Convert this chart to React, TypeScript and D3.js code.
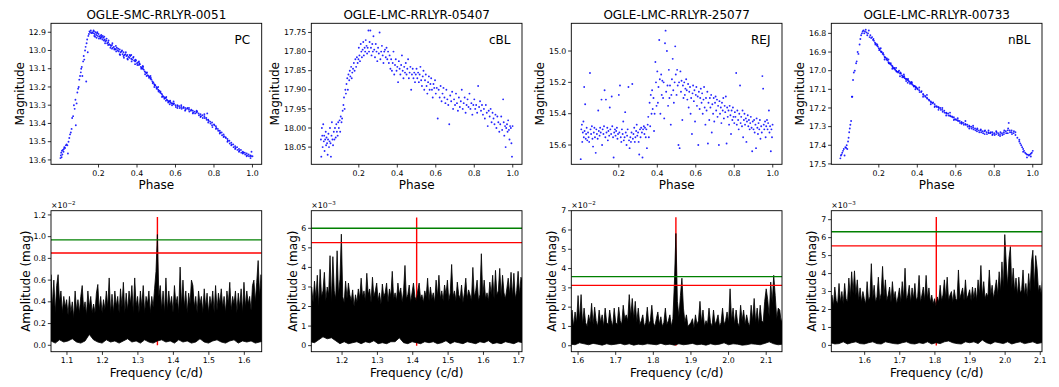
import React from 'react';
import * as d3 from 'd3';

// ---------------- Light-curve data: [phase, magnitude] ----------------
const lcSMC0051: [number, number][] = [
  [0.002,13.59],[0.004,13.575],[0.006,13.56],[0.008,13.585],[0.01,13.55],[0.012,13.57],[0.015,13.545],[0.018,13.555],[0.02,13.54],[0.022,13.53],
  [0.026,13.535],[0.03,13.52],[0.034,13.515],[0.038,13.52],[0.041,13.565],[0.044,13.5],[0.048,13.48],[0.052,13.46],[0.056,13.45],[0.06,13.43],
  [0.063,13.37],[0.068,13.36],[0.072,13.3],[0.076,13.32],[0.08,13.27],[0.082,13.41],[0.086,13.29],[0.09,13.23],[0.094,13.21],[0.097,13.2],
  [0.1,13.16],[0.104,13.14],[0.108,13.12],[0.11,13.1],[0.113,13.09],[0.116,13.14],[0.12,13.06],[0.123,13.03],[0.126,13.05],[0.13,13.0],
  [0.133,12.98],[0.136,13.17],[0.138,12.96],[0.141,12.94],[0.144,13.01],[0.147,12.92],[0.15,12.91],[0.153,12.895],[0.156,12.9],[0.16,12.89],
  [0.163,12.905],[0.167,12.9],
  [0.172,12.905],[0.176,12.895],[0.18,12.91],[0.184,12.9],[0.188,12.915],[0.192,12.905],[0.196,12.92],[0.2,12.91],[0.204,12.925],[0.208,12.92],
  [0.212,12.93],[0.216,12.925],[0.22,12.94],[0.224,12.93],[0.228,12.945],[0.232,12.94],[0.236,12.95],[0.24,12.945],[0.245,12.96],[0.25,12.955],
  [0.255,12.965],[0.26,12.97],[0.265,12.975],[0.27,12.97],[0.275,12.985],[0.28,12.98],[0.285,12.99],[0.29,12.995],[0.295,12.985],[0.3,13.0],
  [0.305,13.005],[0.31,12.995],[0.315,13.01],[0.32,13.005],[0.325,13.02],[0.33,13.01],[0.335,13.025],[0.34,13.02],[0.345,13.03],[0.35,13.025],
  [0.355,13.035],[0.36,13.04],[0.365,13.03],[0.37,13.045],[0.375,13.05],[0.38,13.04],[0.385,13.055],[0.39,13.06],[0.395,13.055],[0.4,13.07],
  [0.405,13.065],[0.41,13.08],[0.415,13.075],[0.42,13.09],[0.425,13.095],[0.43,13.1],[0.435,13.105],[0.44,13.115],[0.445,13.12],[0.45,13.125],
  [0.455,13.135],[0.46,13.14],[0.465,13.145],[0.47,13.155],[0.475,13.16],[0.48,13.17],[0.485,13.175],[0.49,13.185],[0.495,13.19],[0.5,13.2],
  [0.505,13.205],[0.51,13.215],[0.515,13.22],[0.52,13.23],[0.525,13.235],[0.53,13.24],[0.535,13.25],[0.54,13.255],[0.545,13.26],[0.55,13.26],
  [0.555,13.27],[0.56,13.275],[0.565,13.28],[0.57,13.28],[0.575,13.285],[0.58,13.29],[0.585,13.29],[0.59,13.295],[0.6,13.3],[0.61,13.3],
  [0.62,13.305],[0.63,13.31],[0.64,13.315],[0.65,13.315],[0.66,13.32],[0.67,13.325],[0.68,13.33],[0.69,13.33],[0.7,13.335],[0.71,13.34],
  [0.72,13.345],[0.73,13.35],[0.74,13.355],[0.75,13.36],[0.76,13.37],[0.765,13.345],[0.77,13.38],[0.78,13.39],[0.79,13.395],[0.8,13.405],
  [0.81,13.415],[0.82,13.43],[0.83,13.44],[0.84,13.45],[0.85,13.46],[0.86,13.475],[0.87,13.485],[0.88,13.495],[0.89,13.505],[0.9,13.515],
  [0.91,13.525],[0.92,13.53],[0.93,13.54],[0.94,13.545],[0.95,13.555],[0.96,13.56],[0.97,13.565],[0.98,13.57],[0.99,13.575],[1.0,13.58],
  [0.178,12.92],[0.19,12.93],[0.21,12.935],[0.23,12.925],[0.25,12.97],[0.27,12.99],[0.29,12.975],[0.31,13.02],[0.33,13.03],[0.35,13.045],
  [0.37,13.025],[0.39,13.075],[0.41,13.06],[0.43,13.085],[0.45,13.14],[0.47,13.14],[0.49,13.2],[0.51,13.2],[0.53,13.255],[0.55,13.275],
  [0.57,13.295],[0.59,13.28],[0.61,13.315],[0.63,13.3],[0.65,13.33],[0.67,13.315],[0.69,13.345],[0.71,13.33],[0.73,13.365],[0.75,13.35],
  [0.77,13.395],[0.79,13.41],[0.81,13.43],[0.83,13.455],[0.85,13.475],[0.87,13.5],[0.89,13.52],[0.91,13.54],[0.93,13.555],[0.95,13.565],
  [0.97,13.58],[0.99,13.59],[0.995,13.555],
  [0.174,12.89],[0.182,12.925],[0.194,12.9],[0.202,12.935],[0.214,12.915],[0.222,12.92],[0.234,12.96],[0.242,12.935],[0.252,12.945],[0.262,12.985],
  [0.272,12.96],[0.282,12.995],[0.292,13.005],[0.302,12.99],[0.312,13.025],[0.322,13.0],[0.332,13.04],[0.342,13.01],[0.352,13.05],[0.362,13.025],
  [0.372,13.06],[0.382,13.035],[0.392,13.05],[0.402,13.08],[0.412,13.07],[0.422,13.1],[0.432,13.09],[0.442,13.13],[0.452,13.12],[0.462,13.15],
  [0.472,13.15],[0.482,13.18],[0.492,13.19],[0.502,13.21],[0.512,13.225],[0.522,13.225],[0.532,13.25],[0.542,13.265],[0.552,13.255],[0.562,13.285],
  [0.572,13.275],[0.582,13.3],[0.592,13.29],[0.602,13.31],[0.612,13.305],[0.622,13.315],[0.632,13.32],[0.642,13.31],[0.652,13.325],[0.662,13.315],
  [0.672,13.335],[0.682,13.325],[0.692,13.34],[0.702,13.345],[0.712,13.335],[0.722,13.355],[0.732,13.36],[0.742,13.37],[0.752,13.37],[0.762,13.38],
  [0.772,13.385],[0.782,13.4],[0.792,13.42],[0.802,13.41],[0.812,13.425],[0.822,13.44],[0.832,13.45],[0.842,13.465],[0.852,13.47],[0.862,13.48],
  [0.872,13.495],[0.882,13.51],[0.892,13.515],[0.902,13.53],[0.912,13.535],[0.922,13.545],[0.932,13.55],[0.942,13.56],[0.952,13.56],[0.962,13.57],
  [0.972,13.575],[0.982,13.58],[0.992,13.58],
];

const lcLMC05407: [number, number][] = [
  [0.003,18.03],[0.005,18.075],[0.008,18.0],[0.01,18.02],[0.012,18.05],[0.015,17.99],[0.018,18.035],[0.02,18.02],[0.022,18.06],[0.025,18.03],
  [0.028,18.01],[0.03,18.045],[0.032,18.025],[0.035,18.04],[0.038,18.07],[0.04,18.03],[0.042,18.015],[0.045,18.05],[0.048,18.035],[0.05,18.0],
  [0.053,18.04],[0.055,18.075],[0.058,18.02],[0.06,17.985],[0.063,18.03],[0.066,18.045],[0.07,18.01],[0.073,18.03],[0.076,18.0],[0.08,18.025],
  [0.083,17.99],[0.086,18.01],[0.09,18.02],[0.093,17.985],[0.096,18.0],[0.1,17.98],
  [0.103,18.01],[0.106,17.97],[0.11,17.985],[0.113,17.975],[0.116,17.955],[0.12,17.94],[0.123,17.92],[0.126,17.95],[0.13,17.9],[0.133,17.91],
  [0.136,17.885],[0.14,17.87],[0.143,17.9],[0.146,17.86],[0.15,17.875],[0.153,17.85],[0.156,17.865],[0.16,17.84],[0.163,17.87],[0.166,17.855],
  [0.17,17.845],[0.174,17.83],[0.178,17.85],[0.182,17.82],[0.186,17.84],[0.19,17.815],[0.194,17.83],[0.198,17.82],
  [0.2,17.79],[0.203,17.81],[0.206,17.825],[0.21,17.78],[0.213,17.8],[0.216,17.815],[0.22,17.795],[0.223,17.775],[0.226,17.81],[0.23,17.79],
  [0.233,17.8],[0.236,17.77],[0.24,17.785],[0.243,17.805],[0.246,17.79],[0.25,17.745],[0.253,17.8],[0.256,17.775],[0.26,17.745],[0.263,17.79],
  [0.266,17.81],[0.27,17.78],[0.273,17.8],[0.276,17.76],[0.28,17.795],[0.284,17.815],[0.288,17.78],[0.292,17.8],[0.296,17.825],[0.3,17.79],
  [0.304,17.805],[0.308,17.75],[0.312,17.82],[0.316,17.8],[0.32,17.785],[0.324,17.81],[0.328,17.83],[0.332,17.8],[0.336,17.795],[0.34,17.815],
  [0.344,17.79],[0.348,17.82],[0.352,17.8],
  [0.356,17.83],[0.36,17.81],[0.364,17.845],[0.368,17.82],[0.372,17.85],[0.376,17.83],[0.38,17.8],[0.384,17.86],[0.388,17.835],[0.392,17.82],
  [0.396,17.85],[0.4,17.84],[0.404,17.88],[0.408,17.825],[0.412,17.845],[0.416,17.86],[0.42,17.835],[0.424,17.81],[0.428,17.85],[0.432,17.87],
  [0.436,17.84],[0.44,17.855],[0.444,17.83],[0.448,17.86],[0.452,17.845],[0.456,17.82],[0.46,17.87],[0.464,17.855],[0.468,17.84],[0.472,17.9],
  [0.476,17.86],[0.48,17.845],[0.484,17.87],[0.488,17.855],[0.492,17.88],[0.496,17.86],[0.5,17.845],
  [0.504,17.87],[0.508,17.855],[0.512,17.88],[0.516,17.86],[0.52,17.84],[0.524,17.875],[0.528,17.89],[0.532,17.865],[0.536,17.85],[0.54,17.9],
  [0.544,17.875],[0.548,17.86],[0.552,17.89],[0.556,17.91],[0.56,17.88],[0.564,17.865],[0.568,17.9],[0.572,17.885],[0.576,17.87],[0.58,17.9],
  [0.584,17.92],[0.588,17.885],[0.592,17.895],[0.596,17.875],[0.6,17.91],[0.605,17.895],[0.61,17.975],[0.615,17.9],[0.62,17.92],[0.625,17.89],
  [0.63,17.93],[0.635,17.91],[0.64,17.895],[0.645,17.92],[0.65,17.935],
  [0.655,17.9],[0.66,17.925],[0.665,17.94],[0.67,17.99],[0.675,17.915],[0.68,17.93],[0.685,17.905],[0.69,17.95],[0.695,17.925],[0.7,17.94],
  [0.705,17.91],[0.71,17.935],[0.715,17.955],[0.72,17.92],[0.725,17.945],[0.73,17.93],[0.735,17.9],[0.74,17.95],[0.745,17.935],[0.75,17.92],
  [0.755,17.96],[0.76,17.94],[0.765,17.925],[0.77,17.945],[0.775,17.91],[0.78,17.95],[0.785,17.935],[0.79,17.965],[0.795,17.94],
  [0.8,17.925],[0.805,17.95],[0.81,17.94],[0.815,17.96],[0.82,17.89],[0.825,17.945],[0.83,17.93],[0.835,17.955],[0.84,17.94],[0.845,17.965],
  [0.85,17.95],[0.855,17.975],[0.86,17.94],[0.865,17.96],[0.87,17.995],[0.875,17.955],[0.88,17.97],[0.885,17.95],[0.89,17.985],[0.895,17.96],
  [0.9,17.975],[0.905,17.99],[0.91,17.965],[0.915,18.0],[0.92,17.97],[0.925,17.985],[0.93,18.01],[0.935,17.99],[0.94,17.97],[0.945,18.005],
  [0.95,17.925],[0.953,17.985],[0.956,18.02],[0.96,17.995],[0.963,18.05],[0.966,18.0],[0.97,17.99],[0.973,18.01],[0.976,17.98],[0.98,18.005],
  [0.983,18.03],[0.986,17.995],[0.99,18.0],[0.993,18.04],[0.996,18.075],[0.999,17.995],
];

const lcLMC25077: [number, number][] = [
  [0.002,15.69],[0.005,15.5],[0.008,15.47],[0.01,15.58],[0.013,15.52],[0.016,15.45],[0.018,15.55],[0.02,15.23],[0.022,15.51],[0.025,15.34],
  [0.028,15.56],[0.03,15.53],[0.033,15.49],[0.036,15.57],[0.04,15.52],[0.043,15.55],[0.046,15.58],[0.05,15.14],[0.053,15.5],[0.056,15.53],
  [0.06,15.48],[0.063,15.56],[0.066,15.61],[0.07,15.52],[0.073,15.49],[0.076,15.55],[0.08,15.65],[0.083,15.5],[0.086,15.53],[0.09,15.56],
  [0.093,15.38],[0.096,15.51],[0.1,15.54],[0.103,15.49],[0.106,15.52],[0.11,15.31],[0.113,15.6],[0.116,15.5],[0.12,15.53],[0.123,15.48],
  [0.126,15.25],[0.13,15.55],[0.133,15.31],[0.136,15.52],[0.14,15.49],[0.143,15.57],[0.146,15.51],[0.15,15.54],[0.153,15.36],[0.156,15.5],
  [0.16,15.53],[0.163,15.29],[0.166,15.48],[0.17,15.55],[0.173,15.68],[0.176,15.52],[0.18,15.5],[0.183,15.54],[0.186,15.51],[0.19,15.49],
  [0.193,15.56],[0.196,15.53],[0.2,15.28],[0.203,15.52],[0.206,15.22],[0.21,15.55],[0.213,15.58],[0.216,15.5],[0.22,15.53],[0.223,15.45],
  [0.226,15.57],[0.23,15.55],[0.233,15.39],[0.236,15.52],[0.24,15.6],[0.243,15.54],[0.246,15.5],[0.25,15.23],[0.253,15.57],[0.256,15.62],
  [0.26,15.55],[0.263,15.58],[0.266,15.52],[0.27,15.21],[0.273,15.56],[0.276,15.53],[0.28,15.49],[0.283,15.58],[0.286,15.55],[0.29,15.51],
  [0.293,15.47],[0.296,15.54],[0.3,15.52],[0.303,15.58],[0.306,15.66],[0.31,15.5],[0.313,15.55],[0.316,15.49],[0.32,15.52],[0.323,15.68],
  [0.326,15.5],[0.33,15.48],[0.333,15.53],[0.336,15.49],[0.34,15.55],[0.343,15.5],[0.346,15.62],[0.35,15.47],
  [0.353,15.42],[0.356,15.55],[0.36,15.33],[0.363,15.48],[0.366,15.28],[0.37,15.4],[0.373,15.25],[0.376,15.37],[0.38,15.3],[0.383,15.51],
  [0.386,15.4],[0.39,15.07],[0.393,15.2],[0.396,15.35],[0.4,15.13],[0.403,15.33],[0.406,15.23],[0.41,14.93],[0.413,15.18],[0.416,15.4],
  [0.42,15.15],[0.423,15.28],[0.426,15.19],[0.43,15.3],[0.433,15.2],[0.436,15.43],[0.44,14.95],[0.443,14.87],[0.446,15.26],[0.45,15.0],
  [0.453,15.22],[0.456,15.35],[0.46,15.12],[0.463,15.3],[0.466,15.22],[0.47,15.47],[0.473,15.28],[0.476,15.18],[0.48,15.05],[0.483,15.25],
  [0.486,15.33],[0.49,15.2],[0.493,14.97],[0.496,15.15],[0.5,15.28],
  [0.503,15.12],[0.506,15.22],[0.51,15.6],[0.513,15.2],[0.516,15.62],[0.52,15.13],[0.523,15.26],[0.526,15.19],[0.53,15.44],[0.533,15.22],
  [0.536,15.3],[0.54,15.2],[0.543,15.28],[0.546,15.24],[0.55,15.18],[0.553,15.25],[0.556,15.31],[0.56,15.21],[0.563,15.36],[0.566,15.26],
  [0.57,15.23],[0.573,15.4],[0.576,15.3],[0.58,15.53],[0.583,15.27],[0.586,15.22],[0.59,15.32],[0.593,15.25],[0.596,15.45],[0.6,15.28],
  [0.603,15.23],[0.606,15.35],[0.61,15.29],[0.613,15.6],[0.616,15.26],[0.62,15.37],[0.623,15.3],[0.626,15.24],[0.63,15.33],[0.633,15.27],
  [0.636,15.4],[0.64,15.31],[0.643,15.23],[0.646,15.36],[0.65,15.47],
  [0.653,15.3],[0.656,15.38],[0.66,15.26],[0.663,15.59],[0.666,15.33],[0.67,15.44],[0.673,15.3],[0.676,15.36],[0.68,15.28],[0.683,15.52],
  [0.686,15.34],[0.69,15.4],[0.693,15.3],[0.696,15.45],[0.7,15.33],[0.703,15.29],[0.706,15.38],[0.71,15.31],[0.713,15.42],[0.716,15.35],
  [0.72,15.6],[0.723,15.32],[0.726,15.4],[0.73,15.36],[0.733,15.46],[0.736,15.33],[0.74,15.38],[0.743,15.3],[0.746,15.43],[0.75,15.35],
  [0.753,15.39],[0.756,15.29],[0.76,15.59],[0.763,15.36],[0.766,15.42],[0.77,15.38],[0.773,15.47],[0.776,15.35],[0.78,15.41],[0.783,15.53],
  [0.786,15.38],[0.79,15.44],[0.793,15.36],[0.796,15.42],
  [0.8,15.46],[0.803,15.39],[0.806,15.42],[0.81,15.14],[0.813,15.47],[0.816,15.38],[0.82,15.44],[0.823,15.5],[0.826,15.4],[0.83,15.22],
  [0.833,15.46],[0.836,15.42],[0.84,15.48],[0.843,15.38],[0.846,15.55],[0.85,15.44],[0.853,15.4],[0.856,15.47],[0.86,15.43],[0.863,15.58],
  [0.866,15.45],[0.87,15.41],[0.873,15.48],[0.876,15.44],[0.88,15.5],[0.883,15.46],[0.886,15.42],[0.89,15.49],[0.893,15.64],[0.896,15.45],
  [0.9,15.5],[0.903,15.44],[0.906,15.52],[0.91,15.47],[0.913,15.62],[0.916,15.43],[0.92,15.49],[0.923,15.53],[0.926,15.46],[0.93,15.5],
  [0.933,15.44],[0.936,15.56],[0.94,15.48],[0.943,15.52],[0.946,15.16],[0.95,15.24],[0.953,15.47],[0.956,15.5],[0.96,15.45],[0.963,15.55],
  [0.966,15.48],[0.97,15.44],[0.973,15.5],[0.976,15.46],[0.98,15.38],[0.983,15.52],[0.986,15.48],[0.99,15.64],[0.993,15.5],[0.996,15.55],
  [0.999,15.47],
];

const lcLMC00733: [number, number][] = [
  [0.0,17.47],[0.003,17.455],[0.006,17.45],[0.01,17.44],[0.014,17.43],[0.018,17.42],[0.022,17.455],[0.026,17.41],[0.03,17.415],[0.033,17.4],
  [0.036,17.42],[0.04,17.38],[0.043,17.36],[0.046,17.33],[0.049,17.31],[0.052,17.29],[0.056,17.27],[0.06,17.14],[0.062,17.14],[0.066,17.05],
  [0.07,17.01],[0.075,17.0],[0.082,16.96],[0.085,16.95],[0.09,16.9],[0.094,16.91],[0.1,16.86],[0.104,16.83],[0.108,16.81],[0.112,16.8],
  [0.116,16.79],[0.12,16.785],[0.124,16.8],[0.128,16.79],[0.132,16.78],[0.136,16.795],[0.14,16.81],[0.144,16.8],[0.148,16.785],[0.152,16.82],
  [0.156,16.81],[0.16,16.825],[0.165,16.82],[0.17,16.835],[0.175,16.84],[0.18,16.85],[0.185,16.855],[0.19,16.865],[0.195,16.87],[0.2,16.88],
  [0.205,16.885],[0.21,16.895],[0.215,16.9],[0.22,16.91],[0.225,16.915],[0.23,16.925],[0.235,16.93],[0.24,16.94],[0.245,16.945],[0.25,16.955],
  [0.255,16.96],[0.26,16.965],[0.265,16.97],[0.27,16.975],[0.275,16.985],[0.28,16.99],[0.285,16.995],[0.29,17.0],[0.295,17.005],[0.3,17.01],
  [0.305,17.0],[0.31,17.015],[0.315,17.015],[0.32,17.025],[0.325,17.03],[0.33,17.035],[0.335,17.04],[0.34,17.045],[0.345,17.045],[0.35,17.05],
  [0.355,17.055],[0.36,17.06],[0.365,17.065],[0.37,17.07],[0.375,17.075],[0.38,17.08],[0.385,17.082],[0.39,17.085],[0.395,17.09],[0.4,17.095],
  [0.41,17.105],[0.42,17.115],[0.43,17.125],[0.44,17.135],[0.45,17.145],[0.46,17.155],[0.47,17.165],[0.48,17.175],[0.49,17.18],[0.5,17.19],
  [0.51,17.195],[0.52,17.2],[0.53,17.21],[0.54,17.215],[0.55,17.225],[0.56,17.23],[0.57,17.24],[0.58,17.245],[0.59,17.25],[0.6,17.26],
  [0.61,17.265],[0.62,17.27],[0.63,17.275],[0.64,17.28],[0.65,17.285],[0.66,17.29],[0.67,17.295],[0.68,17.3],[0.69,17.305],[0.7,17.31],
  [0.71,17.315],[0.72,17.32],[0.73,17.32],[0.74,17.325],[0.75,17.325],[0.76,17.33],[0.77,17.33],[0.78,17.335],[0.79,17.33],[0.8,17.335],
  [0.81,17.34],[0.82,17.335],[0.83,17.34],[0.84,17.335],[0.85,17.33],[0.86,17.325],[0.87,17.32],[0.875,17.28],[0.88,17.32],[0.89,17.33],
  [0.9,17.335],[0.91,17.345],[0.92,17.36],[0.93,17.38],[0.935,17.39],[0.94,17.4],[0.945,17.41],[0.95,17.42],[0.955,17.43],[0.96,17.44],
  [0.965,17.445],[0.97,17.45],[0.975,17.45],[0.98,17.455],[0.985,17.45],[0.99,17.445],[0.995,17.44],[1.0,17.43],
  [0.21,16.88],[0.23,16.94],[0.25,16.94],[0.27,16.99],[0.29,16.985],[0.31,17.03],[0.33,17.02],[0.35,17.065],[0.37,17.06],[0.39,17.1],
  [0.41,17.09],[0.43,17.14],[0.45,17.13],[0.47,17.18],[0.49,17.195],[0.51,17.21],[0.53,17.2],[0.55,17.24],[0.57,17.225],[0.59,17.265],
  [0.61,17.255],[0.63,17.285],[0.65,17.27],[0.67,17.31],[0.69,17.295],[0.71,17.325],[0.73,17.315],[0.75,17.34],[0.77,17.32],[0.79,17.345],
  [0.81,17.325],[0.83,17.35],[0.85,17.34],[0.87,17.335],[0.89,17.32],[0.91,17.33],[0.93,17.37],[0.95,17.435],[0.97,17.465],[0.99,17.46],
  [0.172,16.83],[0.182,16.86],[0.192,16.86],[0.202,16.89],[0.212,16.9],[0.222,16.905],[0.232,16.93],[0.242,16.935],[0.252,16.96],[0.262,16.96],
  [0.272,16.98],[0.282,16.985],[0.292,17.005],[0.302,17.005],[0.312,17.01],[0.322,17.035],[0.332,17.03],[0.342,17.055],[0.352,17.045],[0.362,17.07],
  [0.372,17.065],[0.382,17.085],[0.392,17.09],[0.402,17.1],[0.412,17.115],[0.422,17.11],[0.432,17.13],[0.442,17.14],[0.452,17.15],[0.462,17.16],
  [0.472,17.17],[0.482,17.17],[0.492,17.19],[0.502,17.195],[0.512,17.2],[0.522,17.21],[0.532,17.22],[0.542,17.225],[0.552,17.23],[0.562,17.24],
  [0.572,17.245],[0.582,17.25],[0.592,17.26],[0.602,17.265],[0.612,17.27],[0.622,17.28],[0.632,17.28],[0.642,17.29],[0.652,17.29],[0.662,17.3],
  [0.672,17.3],[0.682,17.31],[0.692,17.315],[0.702,17.32],[0.712,17.31],[0.722,17.33],[0.732,17.33],[0.742,17.335],[0.752,17.32],[0.762,17.34],
  [0.772,17.335],[0.782,17.33],[0.792,17.34],[0.802,17.345],[0.812,17.33],[0.822,17.345],[0.832,17.33],[0.842,17.345],[0.852,17.32],[0.862,17.335],
  [0.872,17.31],[0.882,17.33],[0.892,17.34],[0.902,17.325],
];

// ---------------- Periodogram data (amplitude envelopes on a regular frequency grid) ----------------
// SMC-0051, units 1e-2 mag, grid start 1.055, step 0.004
const pgSMC0051Upper = [
  0.65,0.35,0.6,0.3,0.55,0.65,0.4,0.5,0.3,0.45, 0.35,0.42,0.28,0.45,0.3,0.4,0.25,0.5,0.32,0.42,
  0.3,0.45,0.55,0.33,0.4,0.28,0.5,0.35,0.45,0.3, 0.38,0.3,0.48,0.56,0.32,0.45,0.3,0.42,0.33,0.5,
  0.35,0.62,0.3,0.47,0.3,0.5,0.36,0.45,0.3,0.52, 0.35,0.58,0.3,0.48,0.32,0.5,0.38,0.55,0.3,0.62,
  0.36,0.45,0.3,0.5,0.35,0.55,0.3,0.45,0.38,0.5, 0.3,0.45,0.35,0.52,0.68,1.02,0.45,0.55,0.33,0.5,
  0.3,0.62,0.32,0.5,0.36,0.45,0.3,0.55,0.38,0.45, 0.3,0.72,0.36,0.6,0.35,0.5,0.3,0.48,0.38,0.6,
  0.55,0.35,0.45,0.3,0.5,0.38,0.45,0.3,0.52,0.35, 0.48,0.3,0.45,0.36,0.5,0.3,0.55,0.32,0.48,0.38,
  0.52,0.35,0.45,0.3,0.5,0.38,0.58,0.32,0.45,0.38, 0.5,0.3,0.48,0.35,0.52,0.3,0.58,0.35,0.5,0.38,
  0.45,0.32,0.55,0.6,0.4,0.58,0.78,0.45,0.65,0.5,
];
// grid start 1.055, step 0.012
const pgSMC0051Lower = [
  0.04,0.02,0.05,0.03,0.04,0.06,0.03,0.02,0.04,0.1, 0.05,0.03,0.02,0.05,0.03,0.04,0.02,0.04,0.06,0.03,
  0.04,0.02,0.05,0.03,0.02,0.04,0.05,0.03,0.04,0.02, 0.05,0.03,0.04,0.02,0.03,0.06,0.03,0.02,0.04,0.05,
  0.03,0.02,0.04,0.05,0.02,0.04,0.03,0.04,0.02,0.03,0.04,
];

// LMC-05407, units 1e-3 mag, grid start 1.110, step 0.004
const pgLMC05407Upper = [
  2.5,
  3.0,2.2,3.3,2.4,3.6,2.0,3.9,2.5,2.8,3.75, 2.3,3.0,2.6,4.6,2.2,4.55,2.8,2.4,4.85,2.6,
  3.4,5.7,2.5,2.2,3.3,2.4,3.2,2.6,2.3,2.85, 2.0,2.6,2.2,2.9,2.4,3.45,2.5,2.8,2.3,3.7,
  2.6,2.9,2.2,3.5,2.5,2.8,3.2,2.3,2.7,2.1, 3.15,2.5,2.7,3.2,2.2,2.9,2.5,3.8,2.4,2.7,
  2.3,3.2,2.6,2.95,2.2,2.8,4.1,2.4,2.6,3.1, 2.2,2.7,3.2,2.5,2.3,2.8,3.2,2.4,2.6,2.2,
  2.8,2.5,3.45,2.3,3.0,2.4,2.7,2.2,3.35,2.5, 3.6,2.4,2.8,2.3,3.1,2.6,3.35,2.3,2.7,4.15,
  2.5,2.8,2.3,3.25,2.6,2.4,3.1,2.2,2.7,3.45, 2.4,2.85,2.6,2.3,4.0,2.5,2.8,3.35,2.3,2.6,
  4.7,2.5,3.35,2.4,2.7,2.3,3.25,2.6,3.6,2.4, 3.85,2.6,2.8,3.95,2.5,3.6,2.7,2.4,2.9,3.45,
  2.6,3.75,2.5,3.7,2.4,2.8,3.8,2.6,3.5,3.3,
];
// grid start 1.110, step 0.012
const pgLMC05407Lower = [
  0.2,0.15,0.3,0.45,0.35,0.4,0.25,0.1,0.2,0.1, 0.15,0.2,0.1,0.2,0.15,0.25,0.1,0.15,0.1,0.2,
  0.2,0.4,0.15,0.1,0.2,0.15,0.1,0.2,0.15,0.2, 0.1,0.15,0.25,0.1,0.2,0.15,0.1,0.2,0.15,0.1,
  0.2,0.15,0.25,0.1,0.15,0.1,0.2,0.15,0.1,0.2,0.15,
];

// LMC-25077, units 1e-2 mag, grid start 1.580, step 0.004
const pgLMC25077Upper = [
  1.3,
  1.85,1.0,1.75,1.2,2.6,1.3,2.65,1.1,1.95,1.2, 1.0,1.6,1.2,2.2,1.1,2.0,1.3,1.0,1.85,1.2,
  1.6,1.0,1.95,1.2,1.1,1.85,1.3,1.0,1.95,1.2, 1.1,2.0,1.3,1.1,2.1,1.4,1.6,1.3,2.65,1.5,
  2.45,1.4,2.3,1.2,1.95,1.1,1.3,1.6,1.0,1.2, 2.0,1.1,1.3,2.1,1.2,1.0,1.4,1.75,1.1,1.5,
  1.0,1.2,1.95,1.1,1.3,1.6,1.0,1.4,3.25,5.82, 2.3,1.5,2.6,3.5,1.95,1.2,1.6,1.0,1.1,1.2,
  1.4,0.9,1.6,1.1,1.3,2.3,1.2,1.85,1.0,1.3, 1.1,1.95,1.2,1.0,1.85,1.1,1.3,1.6,1.0,1.2,
  1.95,1.1,1.3,1.75,1.2,2.95,1.3,1.95,1.1,1.85, 1.2,1.0,2.1,1.3,1.85,1.1,1.6,1.2,1.0,2.1,
  1.3,2.45,1.2,1.95,1.1,2.1,1.3,1.2,2.3,2.95, 2.4,1.5,3.3,2.2,3.65,2.6,1.4,1.95,1.85,1.2,1.5,
];
// grid start 1.580, step 0.012
const pgLMC25077Lower = [
  0.08,0.05,0.15,0.1,0.05,0.12,0.08,0.03,0.1,0.05, 0.08,0.12,0.05,0.1,0.03,0.08,0.05,0.1,0.08,0.05,
  0.12,0.05,0.08,0.03,0.1,0.05,0.08,0.12,0.05,0.08, 0.03,0.1,0.05,0.08,0.15,0.05,0.1,0.08,0.03,0.05,
  0.1,0.08,0.05,0.12,0.2,0.1,0.05,0.08,
];

// LMC-00733, units 1e-3 mag, grid start 1.503, step 0.004
const pgLMC00733Upper = [
  2.5,
  2.8,2.2,3.25,2.5,2.3,3.45,2.4,3.0,2.3,3.45, 2.6,2.4,3.75,2.7,4.1,2.9,4.15,2.8,3.65,2.5,
  3.2,2.4,3.0,2.6,2.3,3.55,2.5,2.7,4.55,2.6, 3.35,2.4,2.7,3.8,2.5,2.9,4.4,2.7,3.65,2.5,
  2.8,3.25,2.4,3.55,2.6,3.0,2.3,2.7,3.2,2.4, 3.55,2.6,4.3,2.5,2.8,3.35,2.4,3.2,2.6,3.45,
  2.5,2.7,3.9,2.4,2.8,3.25,2.5,3.9,2.6,3.2, 2.4,2.8,2.3,2.6,2.2,2.7,2.4,3.35,2.5,2.8,
  3.65,2.6,3.8,2.5,2.8,3.0,2.4,3.1,2.6,2.5, 4.2,2.6,2.9,3.2,2.5,3.65,2.6,2.8,3.1,2.5,
  3.25,2.6,3.2,2.5,3.65,2.8,4.45,2.7,3.55,2.6, 2.9,2.7,4.2,2.8,3.35,2.6,3.1,3.65,2.8,4.1,
  3.0,4.65,3.2,6.17,4.65,3.3,4.85,5.5,3.2,4.3, 3.0,3.75,2.8,3.8,2.9,3.1,4.2,2.8,3.45,2.7,
  4.0,3.0,4.65,5.3,3.2,5.0,4.3,3.0,3.35,2.8,3.8,
];
// grid start 1.503, step 0.012
const pgLMC00733Lower = [
  0.15,0.08,0.1,0.2,0.08,0.15,0.2,0.1,0.08,0.15, 0.2,0.1,0.08,0.2,0.15,0.1,0.08,0.15,0.2,0.1,
  0.08,0.15,0.1,0.2,0.08,0.15,0.1,0.2,0.25,0.15, 0.1,0.08,0.2,0.15,0.2,0.1,0.3,0.15,0.08,0.2,
  0.15,0.1,0.2,0.08,0.15,0.2,0.1,0.15,0.2,0.1,0.15,0.15,
];

// thresholds: green / red levels; main frequency marker position and top
const titles = ['OGLE-SMC-RRLYR-0051', 'OGLE-LMC-RRLYR-05407', 'OGLE-LMC-RRLYR-25077', 'OGLE-LMC-RRLYR-00733'];
const tags = ['PC', 'cBL', 'REJ', 'nBL'];
const greenLevels = [0.97, 6.0, 3.58, 6.33];
const redLevels = [0.85, 5.27, 3.13, 5.54];
const markerFreqs = [1.355, 1.411, 1.86, 1.804];
const markerTops = [1.18, 6.55, 6.66, 7.15];
const exponents = ['\u22122', '\u22123', '\u22122', '\u22123'];

const phaseTicks = [0.2, 0.4, 0.6, 0.8, 1.0];
const magTicks = [
  [12.9, 13.0, 13.1, 13.2, 13.3, 13.4, 13.5, 13.6],
  [17.75, 17.8, 17.85, 17.9, 17.95, 18.0, 18.05],
  [15.0, 15.2, 15.4, 15.6],
  [16.8, 16.9, 17.0, 17.1, 17.2, 17.3, 17.4, 17.5],
];
const magDecimals = [1, 2, 1, 1];
const freqTicks = [
  [1.1, 1.2, 1.3, 1.4, 1.5, 1.6],
  [1.2, 1.3, 1.4, 1.5, 1.6, 1.7],
  [1.6, 1.7, 1.8, 1.9, 2.0, 2.1],
  [1.6, 1.7, 1.8, 1.9, 2.0, 2.1],
];
const ampTicks = [
  [0, 0.2, 0.4, 0.6, 0.8, 1.0, 1.2],
  [0, 1, 2, 3, 4, 5, 6],
  [0, 1, 2, 3, 4, 5, 6, 7],
  [0, 1, 2, 3, 4, 5, 6, 7],
];
const ampDecimals = [1, 0, 0, 0];

// ---------------- layout ----------------
const FONT = 'DejaVu Sans, Liberation Sans, sans-serif';
const LEFTS = [51, 311.3, 571.3, 831.3];
const PW = 210.7;
const TOP1 = 23.3, TOP2 = 210.7, PH = 141;
const PHASE_DOM: [number, number] = [-0.047, 1.048];
const MAG_DOMS: [number, number][] = [[12.851, 13.624], [17.726, 18.095], [14.823, 15.723], [16.746, 17.502]];
const FREQ_DOMS: [number, number][] = [[1.055, 1.649], [1.113, 1.709], [1.582, 2.142], [1.505, 2.105]];
const AMP_DOMS: [number, number][] = [[-0.059, 1.239], [-0.31, 6.9], [-0.31, 7.0], [-0.35, 7.5]];
const LC_YLAB_OFF = [27, 32, 27, 27];
const PG_YLAB_OFF = [21, 14.5, 15.3, 15.3];

const lcData = [lcSMC0051, lcLMC05407, lcLMC25077, lcLMC00733];
const pgUpper = [pgSMC0051Upper, pgLMC05407Upper, pgLMC25077Upper, pgLMC00733Upper];
const pgLower = [pgSMC0051Lower, pgLMC05407Lower, pgLMC25077Lower, pgLMC00733Lower];
const pgStart = [1.055, 1.11, 1.58, 1.503];
const pgStep = 0.004;
const pgLowStep = 0.012;

type Scale = d3.ScaleLinear<number, number>;

function Frame(props: {
  x: Scale; y: Scale; left: number; top: number; xTicks: number[]; yTicks: number[];
  xDec: number; yDec: number; xLabel: string; yLabel: string; yLabOff: number;
}) {
  const { x, y, left, top, xTicks, yTicks, xDec, yDec, xLabel, yLabel, yLabOff } = props;
  const bottom = top + PH;
  return (
    <g fontFamily={FONT}>
      <rect x={left} y={top} width={PW} height={PH} fill="none" stroke="#000" strokeWidth={0.9} />
      {xTicks.map((t) => (
        <g key={'x' + t}>
          <line x1={x(t)} x2={x(t)} y1={bottom} y2={bottom + 3.2} stroke="#000" strokeWidth={0.8} />
          <text x={x(t)} y={bottom + 11.6} fontSize={7.8} textAnchor="middle" fill="#000">{t.toFixed(xDec)}</text>
        </g>
      ))}
      {yTicks.map((t) => (
        <g key={'y' + t}>
          <line x1={left - 3.2} x2={left} y1={y(t)} y2={y(t)} stroke="#000" strokeWidth={0.8} />
          <text x={left - 5} y={y(t)} dy="0.34em" fontSize={7.8} textAnchor="end" fill="#000">{t.toFixed(yDec)}</text>
        </g>
      ))}
      <text x={left + PW / 2} y={bottom + 25} fontSize={12} textAnchor="middle" fill="#000">{xLabel}</text>
      <text transform={`translate(${left - yLabOff},${top + PH / 2}) rotate(-90)`} fontSize={12} textAnchor="middle" fill="#000">{yLabel}</text>
    </g>
  );
}

function LightCurve({ idx }: { idx: number }) {
  const left = LEFTS[idx];
  const x = d3.scaleLinear().domain(PHASE_DOM).range([left, left + PW]);
  const y = d3.scaleLinear().domain(MAG_DOMS[idx]).range([TOP1, TOP1 + PH]);
  const clip = `lc-clip-${idx}`;
  return (
    <g>
      <clipPath id={clip}><rect x={left} y={TOP1} width={PW} height={PH} /></clipPath>
      <g clipPath={`url(#${clip})`}>
        {lcData[idx].map((d, i) => (
          <circle key={i} cx={x(d[0])} cy={y(d[1])} r={0.95} fill="#0000ff" fillOpacity={0.85} />
        ))}
      </g>
      <text x={left + PW / 2} y={19} fontSize={12} textAnchor="middle" fontFamily={FONT} fill="#000">{titles[idx]}</text>
      <text x={left + PW - 11.5} y={44} fontSize={12} textAnchor="end" fontFamily={FONT} fill="#000">{tags[idx]}</text>
      <Frame x={x} y={y} left={left} top={TOP1} xTicks={phaseTicks} yTicks={magTicks[idx]} xDec={1}
        yDec={magDecimals[idx]} xLabel="Phase" yLabel="Magnitude" yLabOff={LC_YLAB_OFF[idx]} />
    </g>
  );
}

function Periodogram({ idx }: { idx: number }) {
  const left = LEFTS[idx];
  const x = d3.scaleLinear().domain(FREQ_DOMS[idx]).range([left, left + PW]);
  const y = d3.scaleLinear().domain(AMP_DOMS[idx]).range([TOP2 + PH, TOP2]);
  const up: [number, number][] = pgUpper[idx].map((a, i) => [x(pgStart[idx] + i * pgStep), y(a)]);
  const lo: [number, number][] = pgLower[idx].map((a, i) => [x(pgStart[idx] + i * pgLowStep), y(a)]);
  const poly = d3.line()(up.concat(lo.slice().reverse())) + 'Z';
  const clip = `pg-clip-${idx}`;
  const f0 = markerFreqs[idx];
  return (
    <g>
      <clipPath id={clip}><rect x={left} y={TOP2} width={PW} height={PH} /></clipPath>
      <g clipPath={`url(#${clip})`}>
        <line x1={x(f0)} x2={x(f0)} y1={y(0)} y2={y(markerTops[idx])} stroke="#ff0000" strokeWidth={1.4} />
        <path d={poly} fill="#000" stroke="#000" strokeWidth={0.8} strokeLinejoin="miter" />
        <line x1={left} x2={left + PW} y1={y(greenLevels[idx])} y2={y(greenLevels[idx])} stroke="#008000" strokeWidth={1.4} />
        <line x1={left} x2={left + PW} y1={y(redLevels[idx])} y2={y(redLevels[idx])} stroke="#ff0000" strokeWidth={1.4} />
      </g>
      <text x={left} y={207.5} fontSize={7.8} fontFamily={FONT} fill="#000">
        {'\u00d710'}<tspan dy={-3} fontSize={5.5}>{exponents[idx]}</tspan>
      </text>
      <Frame x={x} y={y} left={left} top={TOP2} xTicks={freqTicks[idx]} yTicks={ampTicks[idx]} xDec={1}
        yDec={ampDecimals[idx]} xLabel="Frequency (c/d)" yLabel="Amplitude (mag)" yLabOff={PG_YLAB_OFF[idx]} />
    </g>
  );
}

export default function App() {
  return (
    <div style={{ position: 'absolute', left: 0, top: 0 }}>
      <svg width={1059} height={387} style={{ display: 'block', background: '#fff' }}>
        {[0, 1, 2, 3].map((i) => <LightCurve key={'lc' + i} idx={i} />)}
        {[0, 1, 2, 3].map((i) => <Periodogram key={'pg' + i} idx={i} />)}
      </svg>
    </div>
  );
}
